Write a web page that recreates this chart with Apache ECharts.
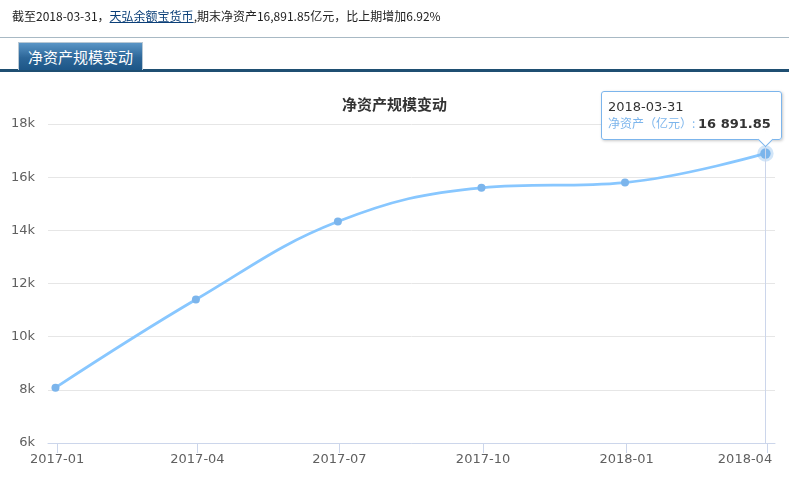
<!DOCTYPE html>
<html>
<head>
<meta charset="utf-8">
<script src="https://cdn.jsdelivr.net/npm/echarts@6/dist/echarts.min.js"></script>
<style>
html,body{margin:0;padding:0;background:#fff;}
#wrap{position:relative;width:789px;height:489px;overflow:hidden;}
#chart{position:absolute;left:0;top:0;width:789px;height:489px;}
.hdr{position:absolute;left:12px;top:8px;font:12px/16px "Noto Sans CJK SC",sans-serif;color:#222;z-index:2;white-space:nowrap;}
.hdr a{color:#0b3f78;text-decoration:underline;}
.gl{position:absolute;left:0;top:37px;width:789px;height:1px;background:#a8b9c4;z-index:2;}
.tab{position:absolute;left:18px;top:42px;width:123px;height:27px;border:1px solid #b8c8d4;border-bottom:none;background:linear-gradient(#5a95c6,#2c6698 55%,#1d5687);color:#fff;font:15px/27px "Noto Sans CJK SC",sans-serif;text-align:center;z-index:3;}
.bl{position:absolute;left:0;top:69px;width:789px;height:3px;background:#1f4f72;z-index:2;}
</style>
</head>
<body>
<div id="wrap">
  <div id="chart"></div>
  <div class="hdr" id="hdr"></div>
  <div class="gl"></div>
  <div class="tab" id="tab"></div>
  <div class="bl"></div>
</div>
<script>
// ---- data ----
const reportDates = ['2016-12-31', '2017-03-31', '2017-06-30', '2017-09-30', '2017-12-31', '2018-03-31'];
const netAssets = [8082.94, 11396.59, 14330.82, 15598.41, 15797.95, 16891.85];
const seriesName = '净资产（亿元）';
const chartTitle = '净资产规模变动';
const fundName = '天弘余额宝货币';
const headerPrefix = '截至2018-03-31，';
const headerSuffix = ',期末净资产16,891.85亿元，比上期增加6.92%';

document.getElementById('hdr').innerHTML = headerPrefix + '<a>' + fundName + '</a>' + headerSuffix;
document.getElementById('tab').textContent = chartTitle;

function parseD(s) { const p = s.split('-').map(Number); return new Date(p[0], p[1] - 1, p[2]).getTime(); }
function pad(n) { return (n < 10 ? '0' : '') + n; }
function fmtNum(v) {
  const parts = v.toFixed(2).split('.');
  return parts[0].replace(/\B(?=(\d{3})+(?!\d))/g, ' ') + '.' + parts[1];
}
const seriesData = reportDates.map((d, i) => [parseD(d), netAssets[i]]);
const lastDate = seriesData[seriesData.length - 1][0];

const chart = echarts.init(document.getElementById('chart'));
chart.setOption({
  animation: false,
  backgroundColor: '#fff',
  title: {
    text: chartTitle, left: 'center', top: 92,
    textStyle: { fontSize: 15, fontWeight: 'bold', color: '#333', fontFamily: 'Noto Sans CJK SC' }
  },
  grid: { left: 48, right: 14, top: 124, bottom: 46, containLabel: false, outerBoundsMode: 'none' },
  xAxis: {
    type: 'time',
    min: new Date(2016, 11, 26, 5).getTime(),
    max: new Date(2018, 3, 6, 3).getTime(),
    splitNumber: 5,
    axisLine: { lineStyle: { color: '#ccd6eb' } },
    axisTick: { show: true, length: 10, lineStyle: { color: '#ccd6eb' } },
    splitLine: { show: false },
    axisLabel: {
      color: '#606060', fontSize: 13, margin: 10, fontFamily: 'DejaVu Sans',
      formatter: function (val) {
        const d = new Date(val);
        const s = d.getFullYear() + '-' + pad(d.getMonth() + 1);
        return val > lastDate ? '{r|' + s + '}' : s;
      },
      rich: { r: { color: '#606060', fontSize: 13, fontFamily: 'DejaVu Sans', padding: [0, 44, 0, 0] } }
    }
  },
  yAxis: {
    type: 'value', min: 6000, max: 18000, interval: 2000,
    axisLine: { show: false }, axisTick: { show: false },
    splitLine: { lineStyle: { color: '#e6e6e6' } },
    axisLabel: { color: '#606060', fontSize: 13, margin: 13, fontFamily: 'DejaVu Sans',
      formatter: v => (v / 1000) + 'k' }
  },
  tooltip: {
    trigger: 'axis', triggerOn: 'none', alwaysShowContent: true, transitionDuration: 0,
    backgroundColor: 'rgba(255,255,255,0.94)', borderColor: '#7cb5ec', borderWidth: 1,
    padding: [7, 10, 8, 6],
    extraCssText: 'box-shadow:1px 1px 3px rgba(0,0,0,0.22);border-radius:3px;overflow:visible;',
    axisPointer: { type: 'line', animation: false, lineStyle: { color: '#ccd6eb', width: 1, type: 'solid' } },
    position: function (pt) { return [pt[0] - 164, pt[1] - 62]; },
    formatter: function (params) {
      const p = params[0];
      const d = new Date(p.value[0]);
      const ds = d.getFullYear() + '-' + pad(d.getMonth() + 1) + '-' + pad(d.getDate());
      return '<div style="font:13px/15px \'DejaVu Sans\';color:#333;">' + ds + '</div>' +
        '<div style="line-height:15px;white-space:nowrap;"><span style="font:12px \'Noto Sans CJK SC\';color:#7cb5ec;">' + p.seriesName + ': </span>' +
        '<span style="font:bold 13px \'DejaVu Sans\';color:#333;">' + fmtNum(p.value[1]) + '</span></div>' +
        '<div style="position:absolute;left:158px;bottom:-6px;width:10px;height:10px;background:#fff;border-right:1px solid #7cb5ec;border-bottom:1px solid #7cb5ec;transform:rotate(45deg);"></div>';
    }
  },
  series: [{
    name: seriesName, type: 'line', smooth: 0.4,
    data: seriesData,
    symbol: 'circle', symbolSize: 8,
    lineStyle: { color: '#7cb5ec', width: 2.8 },
    itemStyle: { color: '#7cb5ec' },
    emphasis: {
      focus: 'none', scale: 1.3,
      lineStyle: { width: 2.8 },
      itemStyle: { color: '#7cb5ec', borderColor: 'rgba(124,181,236,0.35)', borderWidth: 6 }
    }
  }]
});
chart.dispatchAction({ type: 'showTip', seriesIndex: 0, dataIndex: 5 });
</script>
</body>
</html>
